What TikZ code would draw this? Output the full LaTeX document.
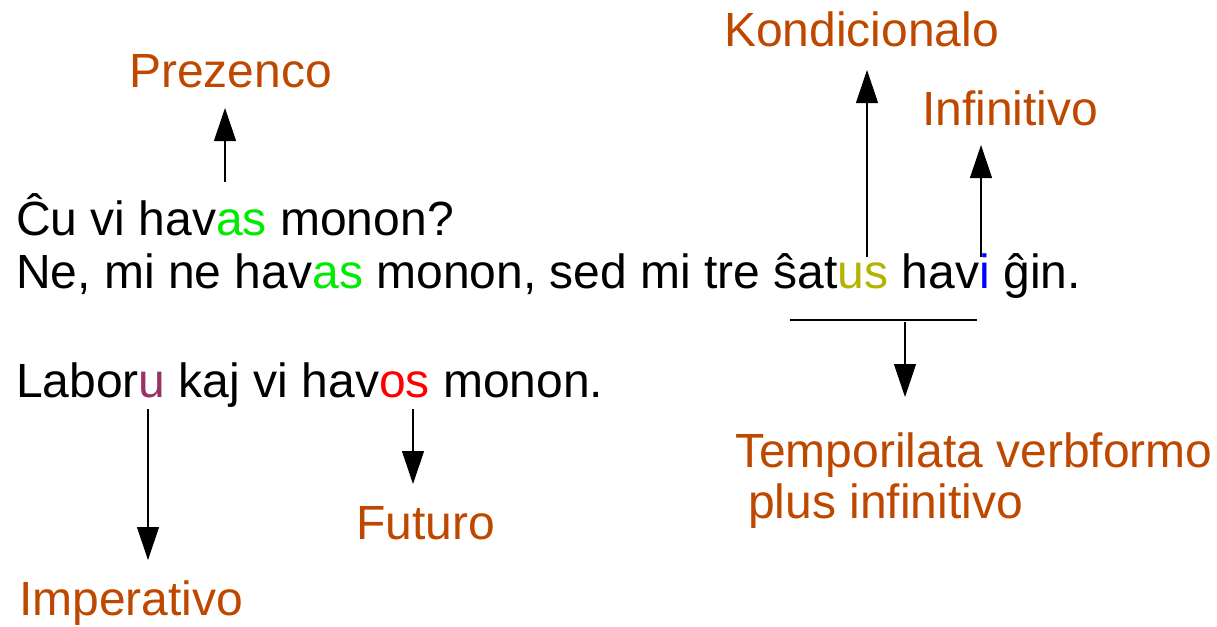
\documentclass[tikz,border=0pt]{standalone}
\usepackage{fontspec}
\setmainfont{Liberation Sans}
\usetikzlibrary{arrows.meta}
\definecolor{lblc}{RGB}{190,72,0}
\definecolor{cgreen}{RGB}{0,235,0}
\definecolor{colive}{RGB}{180,180,0}
\definecolor{cblue}{RGB}{0,0,255}
\definecolor{cpurple}{RGB}{153,51,102}
\definecolor{cred}{RGB}{255,0,0}
\begin{document}
\begin{tikzpicture}[x=1pt,y=-1pt,
  txt/.style={anchor=base west,inner sep=0pt,font=\fontsize{48}{51}\selectfont},
  lbl/.style={txt,text=lblc},
  arr/.style={-{Triangle[length=33pt,width=22pt]},line width=1.1pt},
  plain/.style={line width=1.1pt}]
\useasboundingbox (0,0) rectangle (1217,626);

% sentences
\node[txt] (s1) at (16,235) {Ĉu vi hav\textcolor{cgreen}{as} monon?};
\node[txt] (s2) at (16,288) {Ne, mi ne hav\textcolor{cgreen}{as} monon, sed mi tre ŝat\textcolor{colive}{us} hav\textcolor{cblue}{i} ĝin.};
\node[txt] (s3) at (16,397) {Labor\textcolor{cpurple}{u} kaj vi hav\textcolor{cred}{os} monon.};

% labels
\node[lbl] (prez) at (129,87) {Prezenco};
\node[lbl] (kond) at (724,47) {Kondicionalo};
\node[lbl] (inf) at (922,125) {Infinitivo};
\node[lbl] (fut) at (356,539) {Futuro};
\node[lbl] (imp) at (19,615) {Imperativo};
\node[lbl,align=left] (temp) at (735,518) {Temporilata verbformo\\\hspace*{13pt}plus infinitivo};

% connector ends
\coordinate (prezA) at (225,182);
\coordinate (prezB) at (225,108);
\coordinate (kondA) at (867,257);
\coordinate (kondB) at (867,70);
\coordinate (infA) at (981,257);
\coordinate (infB) at (981,145);
\coordinate (brL) at (790,320);
\coordinate (brR) at (977,320);
\coordinate (brA) at (905,322);
\coordinate (brB) at (905,397);
\coordinate (impA) at (148,409);
\coordinate (impB) at (148,560);
\coordinate (futA) at (413,409);
\coordinate (futB) at (413,484);

\draw[arr] (prezA) -- (prezB);
\draw[arr] (kondA) -- (kondB);
\draw[arr] (infA) -- (infB);
\draw[plain] (brL) -- (brR);
\draw[arr] (brA) -- (brB);
\draw[arr] (impA) -- (impB);
\draw[arr] (futA) -- (futB);
\end{tikzpicture}
\end{document}
